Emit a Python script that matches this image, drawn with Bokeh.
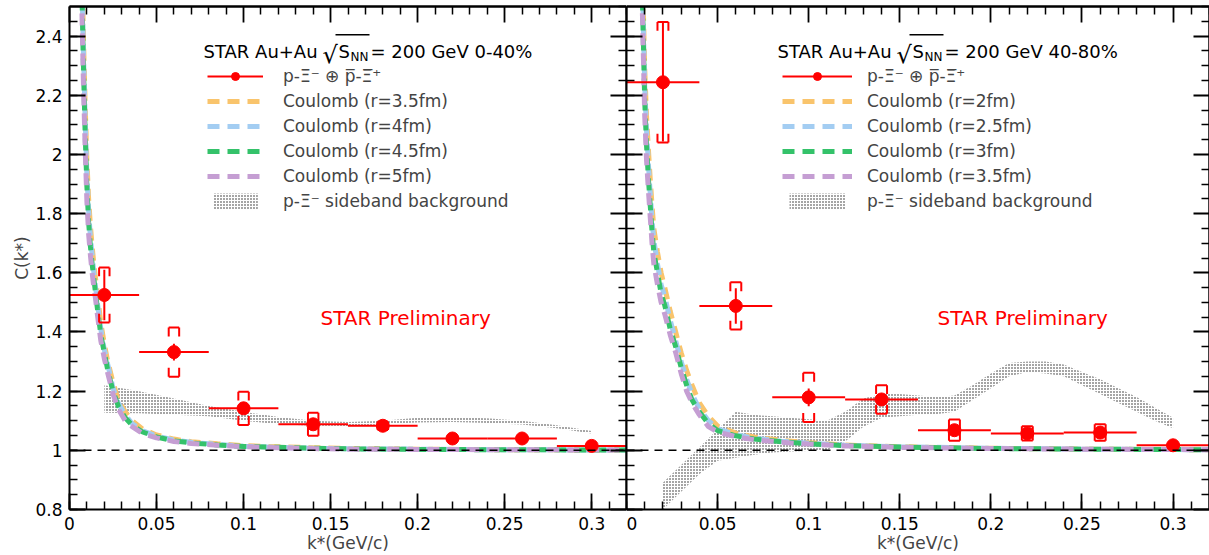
from bokeh.plotting import figure
from bokeh.models import (Range1d, LinearAxis, SingleIntervalTicker, FixedTicker, Legend,
                          LegendItem, Label, Span, BoxAnnotation, CustomJSTickFormatter)
from bokeh.layouts import row
from bokeh.embed import file_html
from bokeh.resources import INLINE

# ---------------- data ----------------
K_BINS = [0.02, 0.06, 0.10, 0.14, 0.18, 0.22, 0.26, 0.30]
K_HALF = [0.02, 0.02, 0.02, 0.02, 0.02, 0.02, 0.02, 0.02]

# 0-40 %
C_L = [1.525, 1.332, 1.142, 1.088, 1.083, 1.040, 1.040, 1.015]
STAT_L = [0.085, 0.028, 0.018, 0.014, 0.010, 0.008, 0.008, 0.006]
SYS_L = [0.093, 0.083, 0.056, 0.039, 0.014, 0.008, 0.008, 0.005]
# 40-80 %
C_R = [2.244, 1.488, 1.179, 1.172, 1.068, 1.057, 1.060, 1.017]
STAT_R = [0.20, 0.060, 0.030, 0.020, 0.020, 0.012, 0.012, 0.008]
SYS_R = [0.204, 0.080, 0.083, 0.048, 0.036, 0.024, 0.028, 0.006]

# Coulomb curves, 0-40 %
KC_L = [0.006, 0.007, 0.008, 0.009, 0.010, 0.011, 0.012, 0.013, 0.014, 0.015, 0.016, 0.018,
        0.020, 0.022, 0.025, 0.028, 0.032, 0.036, 0.042, 0.050, 0.060, 0.070, 0.085, 0.100,
        0.120, 0.140, 0.160, 0.200, 0.250, 0.320]
COUL_L_35 = [3.10, 2.68, 2.40, 2.17, 1.98, 1.85, 1.76, 1.69, 1.63, 1.58, 1.53, 1.43, 1.36, 1.30,
             1.23, 1.17, 1.13, 1.10, 1.072, 1.052, 1.038, 1.029, 1.022, 1.016, 1.012, 1.009,
             1.006, 1.004, 1.002, 1.001]
COUL_L_40 = [3.05, 2.63, 2.35, 2.12, 1.93, 1.81, 1.72, 1.66, 1.60, 1.55, 1.50, 1.41, 1.34, 1.29,
             1.21, 1.16, 1.12, 1.09, 1.066, 1.048, 1.035, 1.027, 1.020, 1.014, 1.010, 1.007,
             1.005, 1.004, 1.002, 1.001]
COUL_L_45 = [3.00, 2.58, 2.30, 2.07, 1.89, 1.77, 1.69, 1.63, 1.58, 1.53, 1.48, 1.39, 1.33, 1.27,
             1.20, 1.15, 1.11, 1.085, 1.062, 1.045, 1.032, 1.025, 1.018, 1.013, 1.010, 1.007,
             1.005, 1.003, 1.002, 1.001]
COUL_L_50 = [2.95, 2.52, 2.24, 2.02, 1.84, 1.73, 1.66, 1.60, 1.55, 1.51, 1.46, 1.37, 1.31, 1.26,
             1.19, 1.14, 1.10, 1.08, 1.057, 1.042, 1.030, 1.023, 1.017, 1.012, 1.009, 1.006,
             1.004, 1.003, 1.002, 1.001]

# Coulomb curves, 40-80 %
KC_R = [0.007, 0.008, 0.009, 0.010, 0.011, 0.012, 0.013, 0.014, 0.015, 0.017, 0.019, 0.021,
        0.024, 0.027, 0.030, 0.033, 0.036, 0.040, 0.045, 0.050, 0.060, 0.070, 0.085, 0.100,
        0.120, 0.150, 0.200, 0.250, 0.320]
COUL_R_20 = [3.10, 2.84, 2.56, 2.29, 2.13, 2.02, 1.92, 1.83, 1.75, 1.67, 1.60, 1.55, 1.47, 1.40,
             1.33, 1.27, 1.22, 1.16, 1.115, 1.082, 1.058, 1.045, 1.034, 1.026, 1.018, 1.012,
             1.007, 1.004, 1.002]
COUL_R_25 = [3.05, 2.78, 2.50, 2.23, 2.08, 1.97, 1.87, 1.78, 1.71, 1.63, 1.56, 1.52, 1.44, 1.37,
             1.30, 1.24, 1.19, 1.14, 1.10, 1.073, 1.053, 1.041, 1.031, 1.024, 1.017, 1.012,
             1.007, 1.004, 1.002]
COUL_R_30 = [3.00, 2.73, 2.45, 2.18, 2.03, 1.92, 1.83, 1.74, 1.67, 1.60, 1.53, 1.49, 1.41, 1.35,
             1.28, 1.22, 1.17, 1.13, 1.09, 1.067, 1.049, 1.038, 1.029, 1.022, 1.016, 1.011,
             1.006, 1.004, 1.002]
COUL_R_35 = [2.95, 2.68, 2.40, 2.13, 1.98, 1.88, 1.79, 1.70, 1.63, 1.56, 1.50, 1.46, 1.39, 1.33,
             1.26, 1.20, 1.16, 1.12, 1.08, 1.062, 1.046, 1.036, 1.027, 1.021, 1.015, 1.010,
             1.006, 1.004, 1.002]

# sideband background bands
KB_L = [0.02, 0.04, 0.06, 0.08, 0.10, 0.12, 0.14, 0.16, 0.18, 0.20, 0.22, 0.24, 0.26, 0.28, 0.30]
BG_L_HI = [1.22, 1.20, 1.175, 1.15, 1.13, 1.113, 1.10, 1.096, 1.10, 1.11, 1.112, 1.108, 1.10,
           1.085, 1.065]
BG_L_LO = [1.127, 1.125, 1.12, 1.115, 1.10, 1.088, 1.083, 1.082, 1.088, 1.094, 1.096, 1.092,
           1.087, 1.075, 1.057]
KB_R = [0.02, 0.03, 0.04, 0.05, 0.06, 0.07, 0.08, 0.09, 0.10, 0.11, 0.12, 0.13, 0.14, 0.15,
        0.16, 0.17, 0.18, 0.19, 0.20, 0.21, 0.22, 0.23, 0.24, 0.25, 0.26, 0.27, 0.28, 0.29, 0.30]
BG_R_HI = [0.89, 0.95, 1.01, 1.07, 1.13, 1.12, 1.115, 1.11, 1.105, 1.10, 1.13, 1.175, 1.19,
           1.19, 1.185, 1.18, 1.185, 1.22, 1.26, 1.295, 1.30, 1.30, 1.29, 1.265, 1.24, 1.21,
           1.18, 1.145, 1.11]
BG_R_LO = [0.80, 0.86, 0.92, 0.965, 0.975, 0.985, 0.993, 0.996, 0.998, 1.0, 1.03, 1.08, 1.11,
           1.115, 1.12, 1.122, 1.13, 1.17, 1.21, 1.25, 1.265, 1.26, 1.25, 1.22, 1.19, 1.16,
           1.13, 1.10, 1.075]

# axis ticks
X_MAJOR = [0.0, 0.05, 0.10, 0.15, 0.20, 0.25, 0.30]
X_MINOR = [0.01, 0.02, 0.03, 0.04, 0.06, 0.07, 0.08, 0.09, 0.11, 0.12, 0.13, 0.14, 0.16, 0.17,
           0.18, 0.19, 0.21, 0.22, 0.23, 0.24, 0.26, 0.27, 0.28, 0.29, 0.31, 0.32]
Y_MAJOR = [0.8, 1.0, 1.2, 1.4, 1.6, 1.8, 2.0, 2.2, 2.4]
Y_MINOR = [0.85, 0.9, 0.95, 1.05, 1.1, 1.15, 1.25, 1.3, 1.35, 1.45, 1.5, 1.55, 1.65, 1.7, 1.75,
           1.85, 1.9, 1.95, 2.05, 2.1, 2.15, 2.25, 2.3, 2.35, 2.45, 2.5]

RADII_L = ["3.5", "4", "4.5", "5"]
RADII_R = ["2", "2.5", "3", "3.5"]
CURVE_COLORS = ["#F9C46C", "#A3CDF2", "#34C26A", "#C59ED3"]
DATA_LABEL = "p-Ξ\u207b \u2295 p\u0305-Ξ\u0305\u207a"
BG_LABEL = "p-Ξ\u207b sideband background"

FONT = "DejaVu Sans"
RED = "#FF0000"


def fmt():
    return CustomJSTickFormatter(code="return String(Number(tick.toFixed(3)));")


def tick_axis(p, place, major, minor):
    # label-free axes that only draw inward ticks on a frame side
    for ticks, ln, w in ((major, 16, 1.8), (minor, 8, 1.5)):
        ax = LinearAxis(ticker=FixedTicker(ticks=[], minor_ticks=ticks), major_tick_in=0,
                        major_tick_out=0, minor_tick_in=ln, minor_tick_out=0,
                        major_label_standoff=0, axis_line_width=2, minor_tick_line_width=w)
        p.add_layout(ax, place)


def style_axis(ax, ticker):
    ax.ticker = ticker
    ax.formatter = fmt()
    ax.major_tick_in = 16
    ax.major_tick_out = 0
    ax.minor_tick_in = 8
    ax.minor_tick_out = 0
    ax.axis_line_width = 2
    ax.major_tick_line_width = 1.8
    ax.minor_tick_line_width = 1.5
    ax.major_label_text_font = FONT
    ax.major_label_text_font_size = "17px"
    ax.major_label_text_color = "black"
    ax.axis_label_text_font = FONT
    ax.axis_label_text_font_size = "17px"
    ax.axis_label_text_font_style = "normal"


def panel(width, border_left, first, C, STAT, SYS, KC, curves, radii, KB, lo, hi,
          title_x, suffix, leg_x, glyph_w, standoff, prelim_x):
    p = figure(width=width, height=555, x_range=Range1d(0, 0.32), y_range=Range1d(0.8, 2.5),
               output_backend="svg", toolbar_location=None,
               min_border_left=border_left, min_border_right=0, min_border_top=6,
               min_border_bottom=46, background_fill_color="white", border_fill_color="white")
    p.grid.visible = False
    p.outline_line_color = None
    style_axis(p.xaxis[0], SingleIntervalTicker(interval=0.05, num_minor_ticks=5))
    style_axis(p.yaxis[0], SingleIntervalTicker(interval=0.2, num_minor_ticks=4))
    p.xaxis.axis_label = "k*(GeV/c)"
    p.xaxis.major_label_standoff = 7
    p.xaxis.axis_label_standoff = 0
    if first:
        p.yaxis.axis_label = "C(k*)"
        p.yaxis.major_label_standoff = 7
        p.yaxis.axis_label_standoff = 0
    else:
        # the y tick labels of the right panel are cut off in the reference
        p.yaxis.major_label_text_font_size = "0px"
        p.yaxis.major_label_standoff = 0
    tick_axis(p, "right", Y_MAJOR, Y_MINOR)
    tick_axis(p, "above", X_MAJOR, X_MINOR)

    # sideband background band
    band = p.varea(x=KB, y1=lo, y2=hi, fill_alpha=0, hatch_pattern="dot",
                   hatch_color="#111111", hatch_scale=3, hatch_weight=1.3, hatch_alpha=0.95)
    # Coulomb curves
    crs = []
    for vals, col in zip(curves, CURVE_COLORS):
        crs.append(p.line(KC, vals, line_color=col, line_width=5, line_dash="12 8"))
    # reference line
    span = Span(location=1.0, dimension="width", line_color="black", line_width=1.5,
                line_dash="8 6", level="glyph")
    p.add_layout(span)

    # systematic brackets
    bw, legmax = 0.003, 0.03
    bx0, bx1, by0, by1 = [], [], [], []
    for k, c, s in zip(K_BINS, C, SYS):
        leg = min(legmax, s)
        for sign in (1, -1):
            yb = c + sign * s
            bx0 += [k - bw, k - bw, k + bw]
            bx1 += [k + bw, k - bw, k + bw]
            by0 += [yb, yb, yb]
            by1 += [yb, yb - sign * leg, yb - sign * leg]
    p.segment(bx0, by0, bx1, by1, line_color=RED, line_width=2)
    # stat errors
    p.segment(K_BINS, [c - s for c, s in zip(C, STAT)], K_BINS,
              [c + s for c, s in zip(C, STAT)], line_color=RED, line_width=2)
    hbar = p.segment([k - h for k, h in zip(K_BINS, K_HALF)], C,
                     [k + h for k, h in zip(K_BINS, K_HALF)], C, line_color=RED, line_width=2)
    pts = p.scatter(K_BINS, C, size=13, marker="circle", fill_color=RED, line_color=RED)

    items = [LegendItem(label=DATA_LABEL, renderers=[hbar, pts])]
    for r, rad in zip(crs, radii):
        items.append(LegendItem(label=f"Coulomb (r={rad}fm)", renderers=[r]))
    items.append(LegendItem(label=BG_LABEL, renderers=[band]))
    legend = Legend(items=items, location=(leg_x, 298), label_text_font=FONT,
                    label_text_font_size="17px", border_line_color=None,
                    background_fill_alpha=0, padding=0, margin=0, spacing=5,
                    glyph_height=20, label_height=20, glyph_width=glyph_w,
                    label_standoff=standoff)
    p.add_layout(legend)

    # legend header: STAR Au+Au sqrt(s_NN) = 200 GeV ...
    yb = 458

    def lab(x, y, text, size="18px"):
        p.add_layout(Label(x=x, y=y, x_units="screen", y_units="screen", text=text,
                           text_font=FONT, text_font_size=size, text_baseline="alphabetic",
                           text_color="black"))
    lab(title_x, yb, "STAR Au+Au")
    lab(title_x + 119, yb - 3, "\u221a", "24px")
    lab(title_x + 135, yb, "S")
    lab(title_x + 147, yb - 5, "NN", "12px")
    lab(title_x + 167, yb, "= 200 GeV " + suffix)
    p.add_layout(BoxAnnotation(left=title_x + 132, right=title_x + 166, bottom=yb + 16,
                               top=yb + 17.5, left_units="screen", right_units="screen",
                               bottom_units="screen", top_units="screen",
                               fill_color="black", fill_alpha=1, line_color=None))
    p.add_layout(Label(x=prelim_x, y=192, x_units="screen", y_units="screen",
                       text="STAR Preliminary", text_font=FONT, text_font_size="20px",
                       text_color=RED, text_baseline="middle"))
    return p


p1 = panel(626, 69, True, C_L, STAT_L, SYS_L, KC_L,
           [COUL_L_35, COUL_L_40, COUL_L_45, COUL_L_50], RADII_L,
           KB_L, BG_L_LO, BG_L_HI, 134, "0-40%", 138, 56, 20, 251)
p2 = panel(583, 0, False, C_R, STAT_R, SYS_R, KC_R,
           [COUL_R_20, COUL_R_25, COUL_R_30, COUL_R_35], RADII_R,
           KB_R, BG_R_LO, BG_R_HI, 151, "40-80%", 156, 70, 15, 311)

layout = row(p1, p2, spacing=0)
open("out.html", "w").write(file_html(layout, INLINE))
